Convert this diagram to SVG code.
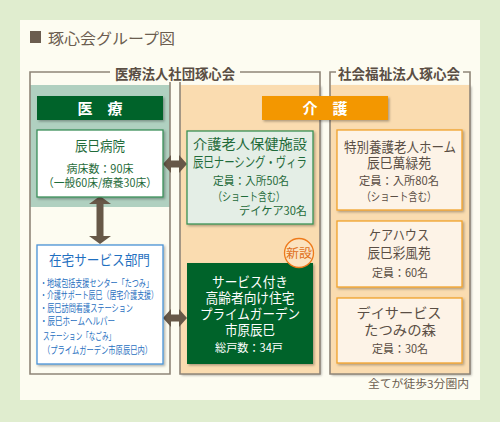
<svg xmlns="http://www.w3.org/2000/svg" width="500" height="422" viewBox="0 0 500 422">
<defs>
<filter id="sh" x="-10%" y="-10%" width="130%" height="130%"><feDropShadow dx="1.5" dy="1.5" stdDeviation="1" flood-color="#000" flood-opacity="0.3"/></filter>
<style>
text{font-family:"Noto Sans CJK JP","Noto Sans",sans-serif}
.gl{fill:none;stroke:#8f8578;stroke-width:1.6}
.lbl{font-size:14px;font-weight:bold;fill:#5a4e44}
.hd{font-size:15px;font-weight:bold;fill:#fff}
.g{fill:#1f6b3a}
.br{fill:#5a4e44}
.bl{fill:#1f6fc0}
.w{fill:#fff}
.t14{font-size:13.5px}
.t12{font-size:11.5px}
.t10{font-size:10px}
.arr{fill:#675848}
</style>
</defs>
<rect width="500" height="422" fill="#e0edcf"/>
<rect x="20" y="20" width="460" height="380" fill="#fdfcf1"/>
<rect x="30" y="31" width="11" height="12" fill="#6b5d4f"/>
<text x="48" y="44" font-size="15" fill="#6b5d4f" textLength="127" lengthAdjust="spacingAndGlyphs">琢心会グループ図</text>

<g id="frames">
<rect x="30" y="85" width="140" height="122" fill="#b0d0c0"/>
<rect x="180" y="85" width="140" height="289" fill="#fadcb0" filter="url(#sh)"/>
<rect x="330" y="85" width="140" height="289" fill="#fadcb0" filter="url(#sh)"/>
<polyline class="gl" points="110,72 30,72 30,374 170,374 170,82"/>
<polyline class="gl" points="240,72 320,72 320,374 180,374 180,82"/>
<polyline class="gl" points="336,72 330,72 330,374 470,374 470,72 463,72"/>
<text class="lbl" x="115" y="79" textLength="120" lengthAdjust="spacingAndGlyphs">医療法人社団琢心会</text>
<text class="lbl" x="338" y="79" textLength="122" lengthAdjust="spacingAndGlyphs">社会福祉法人琢心会</text>
</g>

<g id="iryo-header">
<rect x="37" y="96" width="126" height="24" fill="#00632c" filter="url(#sh)"/>
<text class="hd" x="100" y="114" text-anchor="middle">医　療</text>
</g>
<g id="kaigo-header">
<rect x="262" y="96" width="126" height="24" fill="#f39700" filter="url(#sh)"/>
<text class="hd" x="325" y="114" text-anchor="middle">介　護</text>
</g>

<g id="connectors">
<path class="arr" d="M100,196 L111,204 L103.5,204 L103.5,236 L111,236 L100,244 L89,236 L96.5,236 L96.5,204 L89,204 Z"/>
<path class="arr" d="M163,164 L171,155 L171,160.5 L179,160.5 L179,155 L187,164 L179,173 L179,167.5 L171,167.5 L171,173 Z"/>
<path class="arr" d="M163,318 L171,309 L171,314.5 L179,314.5 L179,309 L187,318 L179,327 L179,321.5 L171,321.5 L171,327 Z"/>
</g>

<g id="hospital">
<rect x="37" y="130" width="126" height="67" fill="#fff" stroke="#3c8f5a" stroke-width="1.3" filter="url(#sh)"/>
<text class="g t14" x="100" y="151" text-anchor="middle" textLength="50" lengthAdjust="spacingAndGlyphs">辰巳病院</text>
<text class="g t12" x="100" y="173" text-anchor="middle" textLength="67" lengthAdjust="spacingAndGlyphs">病床数：90床</text>
<text class="g t12" x="100" y="187" text-anchor="middle" textLength="114" lengthAdjust="spacingAndGlyphs">（一般60床/療養30床）</text>
</g>

<g id="zaitaku">
<rect x="37" y="245" width="126" height="119" fill="#fff" stroke="#4a93d6" stroke-width="1.3" filter="url(#sh)"/>
<text class="bl t14" x="49" y="265" textLength="101" lengthAdjust="spacingAndGlyphs">在宅サービス部門</text>
<text class="bl t10" x="40" y="287" textLength="113" lengthAdjust="spacingAndGlyphs">・地域包括支援センター「たつみ」</text>
<text class="bl t10" x="40" y="299" textLength="118" lengthAdjust="spacingAndGlyphs">・介護サポート辰巳（居宅介護支援）</text>
<text class="bl t10" x="40" y="312" textLength="93" lengthAdjust="spacingAndGlyphs">・辰巳訪問看護ステーション</text>
<text class="bl t10" x="40" y="325" textLength="75" lengthAdjust="spacingAndGlyphs">・辰巳ホームヘルパー</text>
<text class="bl t10" x="43" y="340" textLength="72" lengthAdjust="spacingAndGlyphs">ステーション「なごみ」</text>
<text class="bl t10" x="43" y="354" textLength="109" lengthAdjust="spacingAndGlyphs">（プライムガーデン市原辰巳内）</text>
</g>

<g id="roken">
<rect x="187" y="131" width="126" height="93" fill="#e4eee6" stroke="#3a9155" stroke-width="1.3" filter="url(#sh)"/>
<text class="g t14" x="250" y="149" text-anchor="middle" textLength="114" lengthAdjust="spacingAndGlyphs">介護老人保健施設</text>
<text class="g t14" x="250" y="167" text-anchor="middle" textLength="114" lengthAdjust="spacingAndGlyphs">辰巳ナーシング・ヴィラ</text>
<text class="g t12" x="213" y="185" textLength="76" lengthAdjust="spacingAndGlyphs">定員：入所50名</text>
<text class="g t12" x="213" y="201" textLength="72" lengthAdjust="spacingAndGlyphs">（ショート含む）</text>
<text class="g t12" x="239" y="215" textLength="68" lengthAdjust="spacingAndGlyphs">デイケア30名</text>
</g>

<g id="sakoju">
<rect x="187" y="263" width="126" height="101" fill="#00632c" filter="url(#sh)"/>
<text class="w t14" x="250" y="287" text-anchor="middle" textLength="76" lengthAdjust="spacingAndGlyphs">サービス付き</text>
<text class="w t14" x="250" y="303" text-anchor="middle" textLength="89" lengthAdjust="spacingAndGlyphs">高齢者向け住宅</text>
<text class="w t14" x="250" y="319" text-anchor="middle" textLength="100" lengthAdjust="spacingAndGlyphs">プライムガーデン</text>
<text class="w t14" x="250" y="335" text-anchor="middle" textLength="50" lengthAdjust="spacingAndGlyphs">市原辰巳</text>
<text class="w t12" x="249" y="352" text-anchor="middle" textLength="68" lengthAdjust="spacingAndGlyphs">総戸数：34戸</text>
</g>

<g id="shinsetsu">
<circle cx="299" cy="253" r="14.5" fill="#fbe3c0" stroke="#ee7a1a" stroke-width="1.3"/>
<text x="299" y="258" text-anchor="middle" font-size="12.5" fill="#e0701a" textLength="26" lengthAdjust="spacingAndGlyphs">新設</text>
</g>

<g id="tokuyo">
<rect x="337" y="130" width="125" height="80" fill="#fdf3e7" stroke="#f2a22a" stroke-width="1.3" filter="url(#sh)"/>
<text class="br t14" x="400" y="152" text-anchor="middle" textLength="112" lengthAdjust="spacingAndGlyphs">特別養護老人ホーム</text>
<text class="br t14" x="399" y="168" text-anchor="middle" textLength="64" lengthAdjust="spacingAndGlyphs">辰巳萬緑苑</text>
<text class="br t12" x="399" y="185" text-anchor="middle" textLength="80" lengthAdjust="spacingAndGlyphs">定員：入所80名</text>
<text class="br t12" x="399" y="201" text-anchor="middle" textLength="75" lengthAdjust="spacingAndGlyphs">（ショート含む）</text>
</g>

<g id="carehouse">
<rect x="337" y="221" width="125" height="66" fill="#fdf3e7" stroke="#f2a22a" stroke-width="1.3" filter="url(#sh)"/>
<text class="br t14" x="399" y="240" text-anchor="middle" textLength="60" lengthAdjust="spacingAndGlyphs">ケアハウス</text>
<text class="br t14" x="399" y="258" text-anchor="middle" textLength="63" lengthAdjust="spacingAndGlyphs">辰巳彩風苑</text>
<text class="br t12" x="400" y="277" text-anchor="middle" textLength="56" lengthAdjust="spacingAndGlyphs">定員：60名</text>
</g>

<g id="dayservice">
<rect x="337" y="298" width="125" height="65" fill="#fdf3e7" stroke="#f2a22a" stroke-width="1.3" filter="url(#sh)"/>
<text class="br t14" x="399" y="318" text-anchor="middle" textLength="85" lengthAdjust="spacingAndGlyphs">デイサービス</text>
<text class="br t14" x="400" y="335" text-anchor="middle" textLength="72" lengthAdjust="spacingAndGlyphs">たつみの森</text>
<text class="br t12" x="400" y="353" text-anchor="middle" textLength="56" lengthAdjust="spacingAndGlyphs">定員：30名</text>
</g>

<text x="469" y="388" text-anchor="end" font-size="11" fill="#6b5d4f" textLength="101" lengthAdjust="spacingAndGlyphs">全てが徒歩3分圏内</text>
</svg>
